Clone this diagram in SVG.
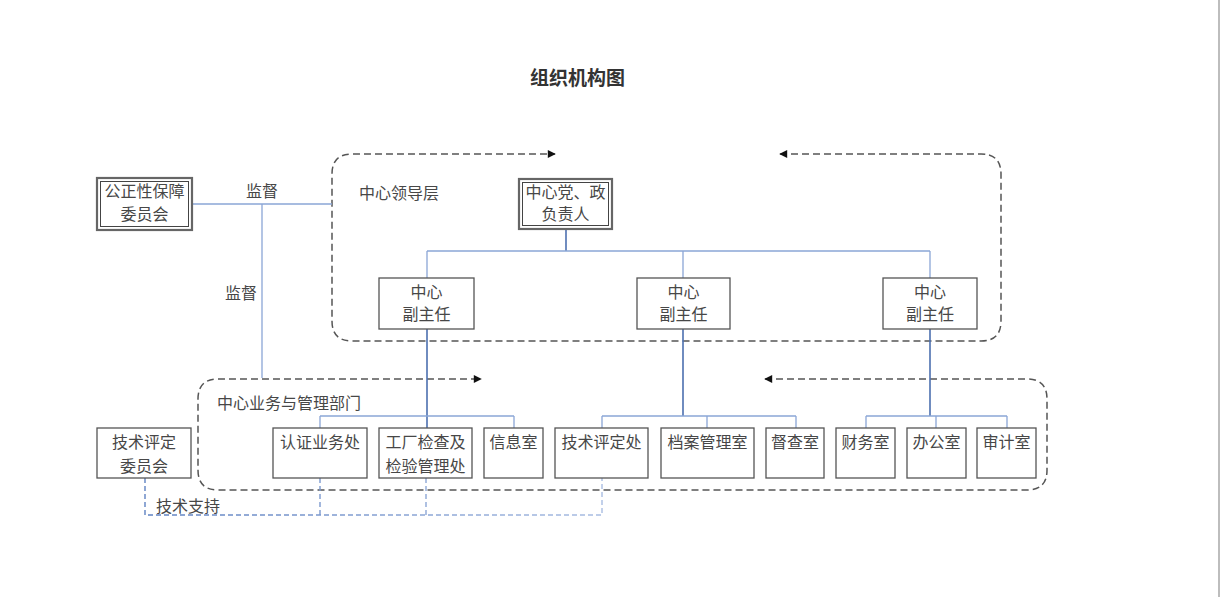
<svg xmlns="http://www.w3.org/2000/svg" width="1225" height="597" viewBox="0 0 1225 597">
<style>
text{font-family:"Noto Sans CJK SC","Noto Sans",sans-serif;fill:#474747;font-size:16px;text-anchor:middle}
.title{font-size:19px;font-weight:bold;fill:#333}
.lab{text-anchor:start}
.box{fill:#fff;stroke:#555;stroke-width:1.3}
.dbo{fill:#fff;stroke:#666;stroke-width:2.2}
.dbi{fill:none;stroke:#444;stroke-width:1}
.lt{fill:none;stroke:#8ba6d6;stroke-width:1.3}
.dk{fill:none;stroke:#4d70b0;stroke-width:1.6}
.grp{fill:none;stroke:#555;stroke-width:1.5;stroke-dasharray:7 4}
.sup{fill:none;stroke:url(#supg);stroke-width:1.4;stroke-dasharray:5 3}
</style>
<defs>
<marker id="ah" viewBox="0 0 10 10" refX="9" refY="5" markerWidth="9" markerHeight="8" markerUnits="userSpaceOnUse" orient="auto-start-reverse">
<path d="M0 0 L10 5 L0 10 Z" fill="#111"/>
</marker>
<linearGradient id="supg" gradientUnits="userSpaceOnUse" x1="145" y1="0" x2="602" y2="0">
<stop offset="0" stop-color="#5f82c2"/>
<stop offset="1" stop-color="#a9bde2"/>
</linearGradient>
</defs>
<rect width="1225" height="597" fill="#fff"/>
<line x1="1219" y1="0" x2="1219" y2="597" stroke="#bdbdbd" stroke-width="2"/>
<text class="title" x="577.5" y="85">组织机构图</text>

<g id="groups">
<path class="grp" marker-start="url(#ah)" marker-end="url(#ah)" d="M780 154 L981 154 Q1001 154 1001 174 L1001 321 Q1001 341 981 341 L352 341 Q332 341 332 321 L332 174 Q332 154 352 154 L555 154"/>
<text class="lab" x="359" y="199">中心领导层</text>
<path class="grp" marker-start="url(#ah)" marker-end="url(#ah)" d="M765 379 L1027 379 Q1047 379 1047 399 L1047 470 Q1047 490 1027 490 L218 490 Q198 490 198 470 L198 399 Q198 379 218 379 L481 379"/>
<text class="lab" x="217" y="409">中心业务与管理部门</text>
</g>

<g id="connectors">
<path class="lt" d="M192 204 H332 M262 204 V378"/>
<text x="262" y="197">监督</text>
<text x="241" y="299">监督</text>
<path class="dk" d="M566 229 V251"/>
<path class="lt" d="M427 251 H930 M427 251 V278 M683 251 V278 M930 251 V278"/>
<path class="dk" d="M427 329 V428 M683 329 V416 M930 329 V416"/>
<path class="lt" d="M320 416 H514 M320 416 V428 M514 416 V428"/>
<path class="lt" d="M602 416 H796 M602 416 V428 M707 416 V428 M796 416 V428"/>
<path class="lt" d="M866 416 H1007 M866 416 V428 M936 416 V428 M1007 416 V428"/>
<path class="sup" d="M145 478 V515 H602 V478 M320 478 V515 M426 478 V515"/>
<text class="lab" x="156" y="512">技术支持</text>
</g>

<g id="n-gzx">
<rect class="dbo" x="97" y="178" width="95" height="52"/>
<rect class="dbi" x="100.5" y="181.5" width="88" height="45"/>
<text x="144.5" y="197">公正性保障</text>
<text x="144.5" y="220">委员会</text>
</g>
<g id="n-fzr">
<rect class="dbo" x="519" y="179" width="93" height="50"/>
<rect class="dbi" x="522.5" y="182.5" width="86" height="43"/>
<text x="565.5" y="198">中心党、政</text>
<text x="565.5" y="220">负责人</text>
</g>
<g id="n-fzr1">
<rect class="box" x="379" y="278" width="95" height="51"/>
<text x="426.5" y="298">中心</text>
<text x="426.5" y="320">副主任</text>
</g>
<g id="n-fzr2">
<rect class="box" x="637" y="278" width="93" height="51"/>
<text x="683.5" y="298">中心</text>
<text x="683.5" y="320">副主任</text>
</g>
<g id="n-fzr3">
<rect class="box" x="883" y="278" width="94" height="51"/>
<text x="930" y="298">中心</text>
<text x="930" y="320">副主任</text>
</g>

<g id="n-jspdwyh">
<rect class="box" x="97" y="428" width="94" height="50"/>
<text x="144" y="448">技术评定</text>
<text x="144" y="472">委员会</text>
</g>
<g id="n-rzyw">
<rect class="box" x="273" y="428" width="94" height="50"/>
<text x="320" y="448">认证业务处</text>
</g>
<g id="n-gcjc">
<rect class="box" x="379" y="428" width="93" height="50"/>
<text x="425.5" y="448">工厂检查及</text>
<text x="425.5" y="472">检验管理处</text>
</g>
<g id="n-xxs">
<rect class="box" x="484" y="428" width="59" height="50"/>
<text x="513.5" y="448">信息室</text>
</g>
<g id="n-jspdc">
<rect class="box" x="555" y="428" width="93" height="50"/>
<text x="601.5" y="448">技术评定处</text>
</g>
<g id="n-dagl">
<rect class="box" x="661" y="428" width="93" height="50"/>
<text x="707.5" y="448">档案管理室</text>
</g>
<g id="n-dcs">
<rect class="box" x="766" y="428" width="58" height="50"/>
<text x="795" y="448">督查室</text>
</g>
<g id="n-cws">
<rect class="box" x="836" y="428" width="59" height="50"/>
<text x="865.5" y="448">财务室</text>
</g>
<g id="n-bgs">
<rect class="box" x="907" y="428" width="59" height="50"/>
<text x="936.5" y="448">办公室</text>
</g>
<g id="n-sjs">
<rect class="box" x="977" y="428" width="59" height="50"/>
<text x="1006.5" y="448">审计室</text>
</g>
</svg>
